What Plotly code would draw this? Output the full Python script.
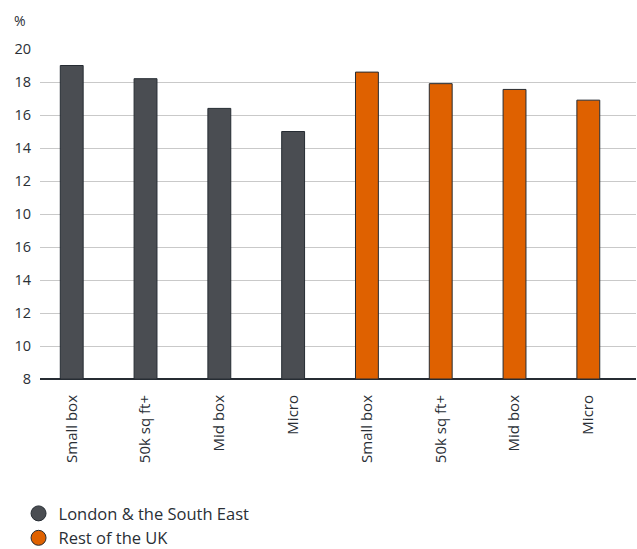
import plotly.graph_objects as go

# Store-size segments, repeated for each region
categories = ["Small box", "50k sq ft+", "Mid box", "Micro",
              "Small box", "50k sq ft+", "Mid box", "Micro"]
london_se = [19.0, 18.2, 16.4, 15.0]
rest_uk = [18.6, 17.9, 17.55, 16.9]

# Y-axis tick positions and their printed labels
y_tickvals = [0, 2, 4, 6, 8, 10, 12, 14, 16, 18, 20]
y_ticktext = ["8", "10", "12", "14", "16", "10", "12", "14", "16", "18", "20"]

GREY = "#4a4d52"
ORANGE = "#df6100"
OUTLINE = "#262c33"
TEXT = "#2a2f36"
FONT = "Open Sans"

x_london = list(range(0, 4))
x_rest = list(range(4, 8))

fig = go.Figure()
fig.add_trace(go.Bar(
    x=x_london, y=london_se, width=0.31,
    marker=dict(color=GREY, line=dict(color=OUTLINE, width=1)),
    showlegend=False, hoverinfo="y",
))
fig.add_trace(go.Bar(
    x=x_rest, y=rest_uk, width=0.31,
    marker=dict(color=ORANGE, line=dict(color=OUTLINE, width=1)),
    showlegend=False, hoverinfo="y",
))

# Legend entries drawn as circles
fig.add_trace(go.Scatter(
    x=[None], y=[None], mode="markers", name="London & the South East",
    marker=dict(symbol="circle", size=15, color=GREY, line=dict(color=OUTLINE, width=1)),
))
fig.add_trace(go.Scatter(
    x=[None], y=[None], mode="markers", name="Rest of the UK",
    marker=dict(symbol="circle", size=15, color=ORANGE, line=dict(color=OUTLINE, width=1)),
))

fig.update_layout(
    width=637, height=549,
    margin=dict(l=40, r=1, t=49, b=170, autoexpand=False),
    paper_bgcolor="white", plot_bgcolor="white",
    font=dict(family=FONT, color=TEXT, size=14),
    legend=dict(
        orientation="v", x=-0.036, xanchor="left", y=-0.355, yanchor="top",
        font=dict(family=FONT, size=16.5, color=TEXT),
        itemsizing="trace", tracegroupgap=0, itemwidth=30,
    ),
    annotations=[dict(
        text="%", xref="paper", yref="paper", x=-0.0336, y=1.085,
        xanchor="center", yanchor="middle", showarrow=False,
        font=dict(family=FONT, size=14, color=TEXT),
    )],
)

fig.update_xaxes(
    range=[-0.43, 7.646],
    tickmode="array", tickvals=list(range(8)), ticktext=categories,
    tickangle=-90, showgrid=False, ticks="",
    showline=False, zeroline=False, ticklabelstandoff=12,
    tickfont=dict(family=FONT, size=15, color=TEXT),
)
fig.update_yaxes(
    range=[0, 20],
    tickmode="array", tickvals=y_tickvals, ticktext=y_ticktext,
    showgrid=True, gridcolor="#c9c9c9", gridwidth=1,
    zeroline=True, zerolinecolor=OUTLINE, zerolinewidth=2,
    showline=False, ticks="", ticklabelstandoff=8,
    tickfont=dict(family=FONT, size=14.5, color=TEXT),
)

fig.write_html("out.html")
